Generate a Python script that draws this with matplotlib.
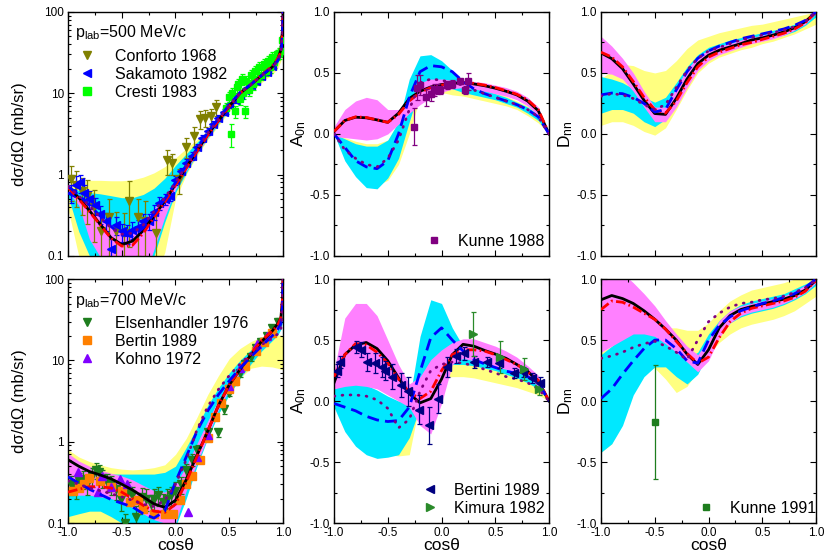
import matplotlib
matplotlib.use("Agg")
import matplotlib.pyplot as plt
from matplotlib.lines import Line2D
from matplotlib.ticker import MultipleLocator, LogLocator, NullFormatter, FixedLocator, FixedFormatter

plt.rcParams['font.family'] = ['Liberation Sans', 'DejaVu Sans']
plt.rcParams['mathtext.fontset'] = 'custom'
plt.rcParams['mathtext.rm'] = 'Liberation Sans'
plt.rcParams['mathtext.it'] = 'Liberation Sans:italic'

# angle grids
COS = [-1.0, -0.9, -0.8, -0.7, -0.6, -0.5, -0.4, -0.3, -0.2, -0.1, 0.0,
       0.1, 0.2, 0.3, 0.4, 0.5, 0.6, 0.7, 0.8, 0.9, 1.0]
COS_LOG = [-1.0, -0.9, -0.8, -0.7, -0.6, -0.5, -0.4, -0.3, -0.2, -0.1, 0.0,
           0.1, 0.2, 0.3, 0.4, 0.5, 0.6, 0.7, 0.8, 0.9, 0.95, 0.98, 0.995, 1.0]

# ---- 500 MeV/c, dsigma/dOmega ----
TL_BLACK = [0.71, 0.52, 0.36, 0.245, 0.168, 0.138, 0.152, 0.205, 0.31, 0.47, 0.76, 1.22, 1.95, 3.1, 4.6, 6.9, 10.0, 12.7, 16.5, 21, 26, 34, 60, 100]
TL_RED = [0.70, 0.50, 0.35, 0.24, 0.165, 0.132, 0.135, 0.19, 0.30, 0.46, 0.74, 1.2, 1.93, 3.05, 4.6, 6.9, 10.0, 12.8, 16.8, 21.5, 26.5, 32, 55, 100]
TL_BLUE = [0.72, 0.56, 0.42, 0.31, 0.23, 0.18, 0.175, 0.22, 0.33, 0.5, 0.8, 1.3, 2.1, 3.3, 4.9, 7.2, 10.2, 12.8, 16.5, 21, 25, 30, 50, 100]
TL_PURPLE = [0.72, 0.55, 0.41, 0.30, 0.22, 0.185, 0.19, 0.24, 0.35, 0.52, 0.8, 1.28, 2.05, 3.2, 4.8, 7.1, 10.1, 12.7, 16.4, 20.8, 25, 30, 50, 100]
TL_YEL_LO = [0.38, 0.1, 0.05, 0.05, 0.05, 0.05, 0.05, 0.05, 0.05, 0.11, 0.5, 1.0, 1.7, 2.7, 4.0, 6.0, 8.5, 10.8, 13.5, 17, 20, 25, 40, 100]
TL_YEL_HI = [0.75, 0.82, 0.85, 0.85, 0.84, 0.84, 0.86, 0.93, 1.05, 1.25, 1.6, 2.1, 2.7, 3.5, 4.9, 7.2, 10.3, 13, 17, 22, 27, 35, 60, 100]
TL_CYAN_LO = [0.55, 0.2, 0.1, 0.05, 0.05, 0.05, 0.05, 0.05, 0.1, 0.26, 0.6, 1.05, 1.8, 2.8, 4.2, 6.4, 9.3, 11.8, 15, 19, 23, 30, 50, 100]
TL_CYAN_HI = [0.72, 0.64, 0.6, 0.58, 0.55, 0.52, 0.52, 0.57, 0.68, 0.9, 1.3, 1.8, 2.5, 3.4, 4.8, 7.1, 10.2, 12.9, 16.8, 21.5, 26.5, 34, 60, 100]
TL_MAG_LO = [0.62, 0.42, 0.16, 0.097, 0.05, 0.05, 0.05, 0.05, 0.12, 0.3, 0.66, 1.12, 1.82, 2.9, 4.4, 6.6, 9.7, 12.3, 15.8, 20, 25, 32, 55, 100]
TL_MAG_HI = [0.74, 0.55, 0.42, 0.31, 0.24, 0.21, 0.22, 0.27, 0.38, 0.55, 0.85, 1.35, 2.15, 3.3, 4.8, 7.1, 10.3, 13, 17, 21.5, 27, 34, 60, 100]

CONF_X = [-0.975, -0.93, -0.87, -0.82, -0.76, -0.69, -0.62, -0.55, -0.48, -0.43, -0.35, -0.28, -0.18, -0.08, -0.03, 0.03, 0.1, 0.17, 0.23, 0.27, 0.33, 0.38]
CONF_Y = [0.88, 0.75, 0.62, 0.55, 0.4, 0.2, 0.3, 0.2, 0.19, 0.48, 0.3, 0.27, 0.19, 1.5, 1.4, 0.88, 2.2, 3.0, 4.8, 5.0, 5.2, 6.8]
CONF_ERR = [0.4, 0.35, 0.3, 0.3, 0.25, 0.15, 0.2, 0.15, 0.15, 0.35, 0.2, 0.2, 0.15, 0.5, 0.4, 0.3, 0.6, 0.8, 1.2, 1.2, 1.2, 1.5]

SAKA_X = [-0.97, -0.93, -0.89, -0.85, -0.8, -0.75, -0.7, -0.65, -0.6, -0.55, -0.5, -0.45, -0.4, -0.35, -0.3, -0.25, -0.2, -0.15, -0.1, -0.05, 0.0, 0.05, 0.1, 0.15, 0.2, 0.25, 0.3, 0.35, 0.4, 0.45, 0.5, 0.55, 0.6, 0.65, 0.7, 0.75, 0.8, 0.85, 0.9]
SAKA_Y = [0.6, 0.75, 0.8, 0.6, 0.5, 0.42, 0.33, 0.27, 0.12, 0.24, 0.2, 0.19, 0.21, 0.23, 0.27, 0.27, 0.35, 0.45, 0.5, 0.55, 0.85, 1.1, 1.4, 1.7, 2.2, 2.8, 3.4, 4.2, 5.0, 5.9, 7.2, 8.2, 9.5, 11, 12.5, 14, 16.5, 18.5, 21.5]
SAKA_ERR = [0.15, 0.2, 0.2, 0.15, 0.12, 0.1, 0.08, 0.07, 0.04, 0.06, 0.05, 0.05, 0.05, 0.05, 0.06, 0.06, 0.07, 0.08, 0.08, 0.08, 0.1, 0.12, 0.14, 0.17, 0.2, 0.25, 0.3, 0.35, 0.4, 0.5, 0.6, 0.7, 0.8, 0.9, 1.0, 1.1, 1.3, 1.5, 1.7]

CRES_X = [0.47, 0.5, 0.52, 0.53, 0.55, 0.57, 0.58, 0.6, 0.62, 0.63, 0.65, 0.66, 0.68, 0.7, 0.72, 0.74, 0.76, 0.78, 0.8, 0.82, 0.84, 0.86, 0.88, 0.9, 0.92, 0.94, 0.96, 0.98, 0.99]
CRES_Y = [6.5, 9.0, 3.2, 10, 6.0, 12, 13, 8.5, 15, 10, 6.0, 14, 11, 17, 13, 19, 15, 21, 17, 23, 19, 25, 21, 28, 24, 30, 31, 33, 45]
CRES_ERR = [1.0, 1.3, 1.0, 1.5, 1.0, 1.8, 2.0, 1.3, 2.2, 1.5, 1.0, 2.1, 1.7, 2.5, 2.0, 2.8, 2.3, 3.1, 2.6, 3.4, 2.9, 3.7, 3.2, 4.2, 3.6, 4.5, 4.6, 4.9, 6.0]

# ---- 500 MeV/c, A0n ----
TM_BLACK = [0.02, 0.11, 0.137, 0.132, 0.115, 0.095, 0.17, 0.29, 0.35, 0.385, 0.405, 0.415, 0.42, 0.41, 0.395, 0.375, 0.35, 0.32, 0.27, 0.19, 0.0]
TM_RED = [0.02, 0.11, 0.14, 0.135, 0.115, 0.095, 0.16, 0.27, 0.34, 0.38, 0.40, 0.415, 0.42, 0.415, 0.40, 0.38, 0.355, 0.325, 0.28, 0.2, 0.0]
TM_BLUE = [0.0, -0.11, -0.22, -0.27, -0.285, -0.22, 0.0, 0.30, 0.51, 0.56, 0.55, 0.51, 0.43, 0.37, 0.33, 0.30, 0.27, 0.24, 0.2, 0.14, 0.0]
TM_PURPLE = [0.0, -0.13, -0.2, -0.25, -0.27, -0.2, -0.05, 0.2, 0.42, 0.45, 0.44, 0.42, 0.40, 0.36, 0.33, 0.3, 0.27, 0.24, 0.2, 0.14, 0.0]
TM_YEL_LO = [0.0, -0.2, -0.3, -0.38, -0.42, -0.38, -0.25, 0.0, 0.3, 0.34, 0.34, 0.32, 0.31, 0.29, 0.27, 0.25, 0.23, 0.2, 0.15, 0.09, 0.0]
TM_YEL_HI = [0.0, -0.03, -0.06, -0.08, -0.08, -0.05, 0.1, 0.38, 0.5, 0.56, 0.56, 0.5, 0.44, 0.4, 0.37, 0.34, 0.31, 0.27, 0.23, 0.17, 0.0]
TM_CYAN_LO = [0.0, -0.22, -0.35, -0.44, -0.45, -0.36, -0.2, 0.1, 0.38, 0.44, 0.42, 0.37, 0.34, 0.32, 0.3, 0.28, 0.25, 0.22, 0.17, 0.11, 0.0]
TM_CYAN_HI = [0.0, -0.04, -0.08, -0.1, -0.1, -0.05, 0.1, 0.45, 0.64, 0.65, 0.6, 0.52, 0.44, 0.39, 0.36, 0.33, 0.3, 0.26, 0.22, 0.16, 0.0]
TM_MAG_LO = [-0.02, -0.03, -0.04, -0.05, -0.04, 0.0, 0.08, 0.17, 0.24, 0.3, 0.34, 0.37, 0.38, 0.37, 0.35, 0.33, 0.31, 0.28, 0.23, 0.15, 0.0]
TM_MAG_HI = [0.06, 0.2, 0.27, 0.3, 0.28, 0.2, 0.2, 0.27, 0.42, 0.45, 0.45, 0.44, 0.44, 0.43, 0.42, 0.40, 0.38, 0.35, 0.30, 0.22, 0.0]

KUN88_X = [-0.26, -0.23, -0.2, -0.14, -0.1, -0.07, -0.04, -0.01, 0.05, 0.1, 0.17, 0.22, 0.25]
KUN88_Y = [0.06, 0.38, 0.40, 0.30, 0.33, 0.36, 0.37, 0.36, 0.40, 0.41, 0.43, 0.36, 0.43]
KUN88_ERR = [0.15, 0.1, 0.08, 0.07, 0.06, 0.05, 0.04, 0.03, 0.03, 0.03, 0.02, 0.03, 0.07]

# ---- 500 MeV/c, Dnn ----
TR_BLACK = [0.664, 0.617, 0.535, 0.41, 0.276, 0.167, 0.16, 0.29, 0.45, 0.576, 0.645, 0.686, 0.713, 0.74, 0.77, 0.787, 0.81, 0.836, 0.87, 0.92, 1.0]
TR_RED = [0.67, 0.63, 0.55, 0.43, 0.3, 0.2, 0.17, 0.27, 0.42, 0.55, 0.63, 0.67, 0.7, 0.73, 0.75, 0.775, 0.8, 0.825, 0.86, 0.91, 1.0]
TR_BLUE = [0.32, 0.335, 0.33, 0.3, 0.25, 0.18, 0.2, 0.36, 0.51, 0.62, 0.68, 0.72, 0.75, 0.78, 0.8, 0.82, 0.84, 0.86, 0.89, 0.93, 1.0]
TR_PURPLE = [0.31, 0.33, 0.32, 0.29, 0.24, 0.2, 0.24, 0.38, 0.52, 0.62, 0.68, 0.71, 0.74, 0.77, 0.79, 0.81, 0.83, 0.85, 0.88, 0.92, 1.0]
TR_YEL_LO = [0.07, 0.1, 0.1, 0.07, 0.02, -0.01, 0.05, 0.2, 0.36, 0.5, 0.58, 0.63, 0.66, 0.69, 0.71, 0.74, 0.76, 0.79, 0.82, 0.86, 0.9]
TR_YEL_HI = [0.45, 0.52, 0.57, 0.56, 0.52, 0.5, 0.52, 0.6, 0.7, 0.77, 0.8, 0.83, 0.85, 0.87, 0.89, 0.9, 0.92, 0.94, 0.96, 0.98, 1.0]
TR_CYAN_LO = [0.17, 0.2, 0.2, 0.17, 0.1, 0.06, 0.12, 0.27, 0.42, 0.55, 0.63, 0.67, 0.7, 0.72, 0.75, 0.77, 0.79, 0.81, 0.84, 0.89, 0.96]
TR_CYAN_HI = [0.47, 0.45, 0.42, 0.37, 0.3, 0.26, 0.3, 0.42, 0.55, 0.65, 0.71, 0.74, 0.77, 0.79, 0.81, 0.83, 0.85, 0.87, 0.9, 0.94, 1.0]
TR_MAG_LO = [0.5, 0.49, 0.45, 0.35, 0.22, 0.1, 0.1, 0.22, 0.38, 0.52, 0.6, 0.65, 0.68, 0.71, 0.74, 0.76, 0.78, 0.81, 0.85, 0.9, 0.99]
TR_MAG_HI = [0.8, 0.72, 0.62, 0.5, 0.35, 0.22, 0.22, 0.38, 0.53, 0.63, 0.69, 0.72, 0.74, 0.77, 0.79, 0.81, 0.83, 0.86, 0.88, 0.92, 1.0]

# ---- 700 MeV/c, dsigma/dOmega ----
BL_BLACK = [0.6, 0.5, 0.43, 0.39, 0.35, 0.3, 0.255, 0.21, 0.172, 0.156, 0.19, 0.34, 0.68, 1.35, 2.8, 5.0, 7.7, 11.7, 17, 23, 28, 33, 55, 100]
BL_RED = [0.24, 0.26, 0.28, 0.28, 0.27, 0.24, 0.2, 0.165, 0.14, 0.135, 0.17, 0.32, 0.66, 1.35, 2.8, 5.0, 7.8, 12, 17.5, 23, 27, 33, 55, 100]
BL_BLUE = [0.37, 0.31, 0.26, 0.225, 0.195, 0.175, 0.158, 0.13, 0.115, 0.14, 0.32, 0.65, 1.35, 2.4, 3.8, 5.6, 8.0, 11, 15, 20, 24, 28, 45, 100]
BL_PURPLE = [0.33, 0.3, 0.27, 0.25, 0.23, 0.21, 0.19, 0.17, 0.16, 0.19, 0.3, 0.6, 1.4, 2.7, 4.4, 6.5, 9.0, 12, 15.5, 19, 21, 24, 40, 100]
BL_YEL_LO = [0.1, 0.1, 0.1, 0.095, 0.09, 0.085, 0.08, 0.08, 0.08, 0.08, 0.08, 0.3, 0.55, 1.1, 2.2, 3.8, 6.0, 8.0, 8.5, 8.3, 8.0, 7.8, 7.7, 7.7]
BL_YEL_HI = [0.8, 0.65, 0.57, 0.52, 0.48, 0.46, 0.45, 0.46, 0.48, 0.52, 0.7, 1.1, 2.0, 3.8, 6.5, 10.5, 14, 17, 19.5, 20.5, 20.5, 20.5, 20, 19.5]
BL_CYAN_LO = [0.12, 0.13, 0.14, 0.14, 0.12, 0.1, 0.09, 0.08, 0.08, 0.08, 0.09, 0.2, 0.5, 1.1, 2.2, 3.8, 6.0, 9.0, 13, 17.5, 20.5, 24, 30, 35]
BL_CYAN_HI = [0.45, 0.42, 0.41, 0.4, 0.4, 0.4, 0.4, 0.4, 0.4, 0.42, 0.5, 0.85, 1.5, 2.8, 4.6, 7.0, 10, 13.5, 17, 21, 24, 28, 40, 40]
BL_MAG_LO = [0.22, 0.22, 0.22, 0.21, 0.2, 0.18, 0.155, 0.13, 0.11, 0.1, 0.1, 0.25, 0.55, 1.15, 2.5, 4.4, 7.0, 10.5, 15, 20, 24, 28, 45, 100]
BL_MAG_HI = [0.72, 0.58, 0.5, 0.45, 0.41, 0.38, 0.34, 0.29, 0.25, 0.24, 0.3, 0.5, 0.95, 1.8, 3.3, 5.4, 8.2, 12.3, 17.8, 24, 29, 35, 60, 100]

ELS_X = [-0.97, -0.93, -0.9, -0.86, -0.82, -0.78, -0.74, -0.71, -0.68, -0.64, -0.6, -0.55, -0.51, -0.47, -0.44, -0.4, -0.37, -0.34, -0.31, -0.27, -0.23, -0.2, -0.16, -0.12, -0.08, -0.04, 0.0, 0.05, 0.1, 0.15, 0.2, 0.3, 0.4, 0.45, 0.5, 0.55, 0.6, 0.65, 0.7, 0.75, 0.8, 0.85, 0.9, 0.95]
ELS_Y = [0.3, 0.27, 0.33, 0.35, 0.3, 0.38, 0.45, 0.42, 0.36, 0.32, 0.3, 0.26, 0.2, 0.1, 0.25, 0.22, 0.12, 0.18, 0.21, 0.2, 0.17, 0.2, 0.22, 0.18, 0.2, 0.22, 0.25, 0.3, 0.45, 0.6, 0.8, 1.3, 1.3, 2.5, 4.0, 5.5, 7, 9, 11, 14, 17, 20, 25, 30]
ELS_ERR = [0.08, 0.07, 0.08, 0.09, 0.08, 0.1, 0.1, 0.1, 0.09, 0.08, 0.08, 0.07, 0.06, 0.03, 0.07, 0.06, 0.04, 0.05, 0.06, 0.06, 0.05, 0.06, 0.06, 0.05, 0.06, 0.06, 0.07, 0.07, 0.08, 0.1, 0.12, 0.15, 0.15, 0.3, 0.4, 0.55, 0.7, 0.9, 1.1, 1.4, 1.7, 2.0, 2.5, 3.0]

BERT_X = [-0.95, -0.9, -0.85, -0.8, -0.7, -0.6, -0.5, -0.42, -0.35, -0.3, -0.2, -0.1, -0.02, 0.04, 0.1, 0.15, 0.23, 0.3, 0.37, 0.42, 0.5, 0.55, 0.65, 0.75, 0.82, 0.9]
BERT_Y = [0.25, 0.27, 0.3, 0.36, 0.33, 0.28, 0.25, 0.18, 0.19, 0.15, 0.13, 0.13, 0.13, 0.19, 0.3, 0.38, 0.6, 1.1, 2.0, 3.0, 4.5, 5.5, 8.5, 13, 17, 22]

KOH_X = [-0.91, -0.72, -0.68, -0.6, -0.52, -0.45, 0.12, 0.2, 0.3, 0.5, 0.6, 0.76, 0.85]
KOH_Y = [0.42, 0.24, 0.38, 0.28, 0.35, 0.3, 0.135, 0.65, 1.2, 4.8, 8, 16, 20]

# ---- 700 MeV/c, A0n ----
BM_BLACK = [0.15, 0.38, 0.46, 0.48, 0.43, 0.33, 0.19, 0.06, -0.015, 0.02, 0.18, 0.38, 0.465, 0.45, 0.415, 0.385, 0.35, 0.3, 0.245, 0.16, 0.0]
BM_RED = [0.2, 0.38, 0.47, 0.46, 0.4, 0.31, 0.18, 0.07, 0.02, 0.08, 0.25, 0.38, 0.42, 0.42, 0.41, 0.38, 0.34, 0.3, 0.24, 0.17, 0.0]
BM_BLUE = [-0.02, -0.05, -0.08, -0.125, -0.155, -0.168, -0.16, -0.05, 0.24, 0.52, 0.6, 0.5, 0.41, 0.34, 0.305, 0.275, 0.245, 0.225, 0.2, 0.15, 0.0]
BM_PURPLE = [0.04, 0.05, 0.05, 0.04, 0.01, -0.06, -0.22, -0.15, 0.08, 0.25, 0.3, 0.32, 0.31, 0.29, 0.26, 0.23, 0.2, 0.18, 0.15, 0.1, 0.0]
BM_YEL_LO = [-0.05, -0.15, -0.25, -0.33, -0.4, -0.44, -0.45, -0.44, 0.0, 0.1, 0.18, 0.2, 0.2, 0.19, 0.17, 0.15, 0.13, 0.11, 0.08, 0.05, 0.0]
BM_YEL_HI = [0.1, 0.12, 0.12, 0.1, 0.05, 0.0, -0.1, -0.1, 0.2, 0.5, 0.45, 0.42, 0.4, 0.37, 0.34, 0.31, 0.28, 0.25, 0.21, 0.15, 0.0]
BM_CYAN_LO = [-0.05, -0.25, -0.37, -0.44, -0.47, -0.46, -0.44, -0.3, -0.05, 0.1, 0.25, 0.3, 0.3, 0.29, 0.27, 0.25, 0.22, 0.19, 0.15, 0.1, 0.0]
BM_CYAN_HI = [0.1, 0.15, 0.15, 0.13, 0.09, 0.04, 0.0, 0.0, 0.53, 0.83, 0.8, 0.6, 0.45, 0.4, 0.36, 0.33, 0.3, 0.27, 0.23, 0.17, 0.0]
BM_MAG_LO = [0.1, 0.12, 0.13, 0.12, 0.1, 0.05, 0.0, -0.05, -0.2, -0.27, -0.02, 0.3, 0.35, 0.33, 0.31, 0.28, 0.26, 0.24, 0.2, 0.12, 0.0]
BM_MAG_HI = [0.25, 0.68, 0.8, 0.8, 0.7, 0.5, 0.3, 0.14, 0.2, 0.34, 0.42, 0.48, 0.51, 0.51, 0.48, 0.45, 0.41, 0.36, 0.29, 0.21, 0.0]

BTN_X = [-0.97, -0.94, -0.8, -0.75, -0.69, -0.62, -0.55, -0.53, -0.46, -0.38, -0.31, -0.21, -0.12, -0.03, 0.05, 0.13, 0.21, 0.3, 0.42, 0.53, 0.67, 0.76, 0.84, 0.92]
BTN_Y = [0.25, 0.32, 0.44, 0.42, 0.32, 0.31, 0.28, 0.25, 0.2, 0.13, 0.08, -0.07, -0.2, 0.02, 0.28, 0.37, 0.39, 0.32, 0.32, 0.31, 0.23, 0.24, 0.19, 0.15]
BTN_ERR = [0.05, 0.05, 0.05, 0.06, 0.07, 0.08, 0.08, 0.08, 0.1, 0.1, 0.12, 0.12, 0.15, 0.12, 0.08, 0.06, 0.05, 0.05, 0.04, 0.04, 0.04, 0.04, 0.04, 0.05]

KIM_X = [0.29, 0.54, 0.77, 0.91]
KIM_Y = [0.55, 0.36, 0.26, 0.1]
KIM_ERR = [0.18, 0.13, 0.09, 0.05]

# ---- 700 MeV/c, Dnn ----
BR_BLACK = [0.83, 0.865, 0.84, 0.8, 0.74, 0.67, 0.59, 0.5, 0.385, 0.3, 0.42, 0.6, 0.7, 0.75, 0.775, 0.795, 0.815, 0.835, 0.865, 0.91, 0.99]
BR_RED = [0.75, 0.82, 0.81, 0.77, 0.72, 0.67, 0.59, 0.49, 0.39, 0.31, 0.36, 0.52, 0.65, 0.72, 0.76, 0.78, 0.8, 0.82, 0.85, 0.9, 0.99]
BR_BLUE = [0.02, 0.1, 0.22, 0.33, 0.43, 0.5, 0.5, 0.43, 0.33, 0.31, 0.5, 0.62, 0.69, 0.74, 0.77, 0.8, 0.82, 0.85, 0.88, 0.93, 1.0]
BR_PURPLE = [0.35, 0.37, 0.4, 0.44, 0.47, 0.49, 0.45, 0.4, 0.34, 0.5, 0.65, 0.72, 0.77, 0.8, 0.81, 0.83, 0.84, 0.86, 0.89, 0.93, 0.99]
BR_YEL_LO = [-0.42, -0.35, -0.1, 0.25, 0.28, 0.27, 0.18, 0.07, 0.12, 0.25, 0.38, 0.48, 0.55, 0.6, 0.63, 0.65, 0.67, 0.7, 0.74, 0.8, 0.86]
BR_YEL_HI = [0.4, 0.45, 0.55, 0.6, 0.62, 0.62, 0.6, 0.6, 0.58, 0.58, 0.64, 0.74, 0.82, 0.87, 0.91, 0.93, 0.95, 0.97, 1.0, 1.0, 1.0]
BR_CYAN_LO = [-0.42, -0.35, -0.2, 0.05, 0.2, 0.28, 0.28, 0.2, 0.14, 0.22, 0.4, 0.55, 0.64, 0.69, 0.72, 0.74, 0.76, 0.79, 0.83, 0.88, 0.95]
BR_CYAN_HI = [0.38, 0.45, 0.52, 0.57, 0.6, 0.6, 0.55, 0.45, 0.35, 0.4, 0.55, 0.66, 0.74, 0.79, 0.82, 0.84, 0.86, 0.88, 0.92, 0.96, 1.0]
BR_MAG_LO = [0.4, 0.45, 0.5, 0.55, 0.55, 0.53, 0.47, 0.4, 0.32, 0.24, 0.33, 0.52, 0.64, 0.7, 0.73, 0.75, 0.77, 0.8, 0.84, 0.89, 0.97]
BR_MAG_HI = [1.05, 1.05, 1.05, 0.97, 0.88, 0.78, 0.66, 0.55, 0.45, 0.38, 0.5, 0.66, 0.74, 0.78, 0.8, 0.82, 0.84, 0.86, 0.9, 0.95, 1.0]

KUN91_X = [-0.5]
KUN91_Y = [-0.17]
KUN91_ERR = [0.465]

YELLOW = '#ffff80'
CYAN = '#00e8ff'
MAGENTA = '#ff80ff'
FS = 11.5


def draw_bands(ax, x, yl, yh, cl, ch, ml, mh):
    ax.fill_between(x, yl, yh, color=YELLOW, lw=0, zorder=1)
    ax.fill_between(x, cl, ch, color=CYAN, lw=0, zorder=1.1)
    ax.fill_between(x, ml, mh, color=MAGENTA, lw=0, zorder=1.2)


def draw_curves(ax, x, black, red, blue, purple, z=3):
    ax.plot(x, black, color='black', lw=2, zorder=z)
    ax.plot(x, red, color='red', lw=2, dashes=(3.5, 1.2, 0.6, 1.2), zorder=z + 0.1)
    ax.plot(x, blue, color='blue', lw=2, dashes=(4.3, 2.2), zorder=z + 0.2)
    ax.plot(x, purple, color='purple', lw=2, dashes=(0.3, 2.6),
            dash_capstyle='round', zorder=z + 0.3)


def points(ax, x, y, err, color, marker, ms=5, z=2.5):
    ax.errorbar(x, y, yerr=err, fmt=marker, color=color, ms=ms, mec=color,
                elinewidth=0.9, capsize=1.8, capthick=0.9, zorder=z)


def setup(ax, log=False, bottom=False):
    ax.set_xlim(-1, 1)
    ax.xaxis.set_major_locator(MultipleLocator(0.5))
    ax.xaxis.set_minor_locator(MultipleLocator(0.25))
    if log:
        ax.set_yscale('log')
        ax.set_ylim(0.1, 100)
        ax.yaxis.set_major_locator(FixedLocator([0.1, 1, 10, 100]))
        ax.yaxis.set_major_formatter(FixedFormatter(['0.1', '1', '10', '100']))
        ax.yaxis.set_minor_locator(LogLocator(subs=range(2, 10)))
        ax.yaxis.set_minor_formatter(NullFormatter())
    else:
        ax.set_ylim(-1, 1)
        ax.yaxis.set_major_locator(MultipleLocator(0.5))
        ax.yaxis.set_minor_locator(MultipleLocator(0.25))
        ax.yaxis.set_major_formatter(lambda v, p: '%.1f' % v)
    ax.xaxis.set_major_formatter(lambda v, p: '%.1f' % v)
    ax.tick_params(which='both', direction='in', top=True, right=True,
                   labelsize=8.5, width=0.8, pad=3)
    ax.tick_params(which='major', length=4)
    ax.tick_params(which='minor', length=2.2)
    if not bottom:
        ax.tick_params(labelbottom=False)
    else:
        ax.set_xlabel('cosθ', fontsize=12.5)
        ax.xaxis.set_label_coords(0.5, -0.06)
    for s in ax.spines.values():
        s.set_linewidth(1.0)


def mk(marker, color, ms=6):
    return Line2D([], [], ls='none', marker=marker, color=color, ms=ms)


fig = plt.figure(figsize=(8.26, 5.6), dpi=100)
W, H = 0.2603, 0.4357
ax1 = fig.add_axes([0.0823, 0.543, W, H])
ax2 = fig.add_axes([0.4044, 0.543, W, H])
ax3 = fig.add_axes([0.7276, 0.543, W, H])
ax4 = fig.add_axes([0.0823, 0.066, W, H])
ax5 = fig.add_axes([0.4044, 0.066, W, H])
ax6 = fig.add_axes([0.7276, 0.066, W, H])

# top left
draw_bands(ax1, COS_LOG, TL_YEL_LO, TL_YEL_HI, TL_CYAN_LO, TL_CYAN_HI, TL_MAG_LO, TL_MAG_HI)
points(ax1, CONF_X, CONF_Y, CONF_ERR, '#808000', 'v', ms=6)
points(ax1, SAKA_X, SAKA_Y, SAKA_ERR, '#0000ff', '<', ms=5.5)
points(ax1, CRES_X, CRES_Y, CRES_ERR, '#00ff00', 's', ms=4.5)
draw_curves(ax1, COS_LOG, TL_BLACK, TL_RED, TL_BLUE, TL_PURPLE)
setup(ax1, log=True)
ax1.set_ylabel('dσ/dΩ (mb/sr)', fontsize=12)
ax1.yaxis.set_label_coords(-0.19, 0.5)
ax1.text(0.033, 0.914, r'p$_{\mathregular{lab}}$=500 MeV/c', transform=ax1.transAxes,
         fontsize=FS, va='center', ha='left')
ax1.legend([mk('v', '#808000'), mk('<', '#0000ff'), mk('s', '#00ff00')],
           ['Conforto 1968', 'Sakamoto 1982', 'Cresti 1983'],
           loc='upper left', bbox_to_anchor=(0.05, 0.85), frameon=False, fontsize=FS,
           handlelength=1.0, handletextpad=1.3, labelspacing=0.2,
           borderaxespad=0, borderpad=0)

# top middle
draw_bands(ax2, COS, TM_YEL_LO, TM_YEL_HI, TM_CYAN_LO, TM_CYAN_HI, TM_MAG_LO, TM_MAG_HI)
draw_curves(ax2, COS, TM_BLACK, TM_RED, TM_BLUE, TM_PURPLE)
points(ax2, KUN88_X, KUN88_Y, KUN88_ERR, '#800080', 's', ms=5, z=4)
setup(ax2)
ax2.set_ylabel(r'A$_{\mathregular{0n}}$', fontsize=12.5)
ax2.yaxis.set_label_coords(-0.12, 0.5)
ax2.legend([mk('s', '#800080', 5)], ['Kunne 1988'], loc='lower right',
           bbox_to_anchor=(0.98, 0.03), frameon=False, fontsize=FS,
           handlelength=1.0, handletextpad=1.0, borderaxespad=0, borderpad=0)

# top right
draw_bands(ax3, COS, TR_YEL_LO, TR_YEL_HI, TR_CYAN_LO, TR_CYAN_HI, TR_MAG_LO, TR_MAG_HI)
draw_curves(ax3, COS, TR_BLACK, TR_RED, TR_BLUE, TR_PURPLE)
setup(ax3)
ax3.set_ylabel(r'D$_{\mathregular{nn}}$', fontsize=12.5)
ax3.yaxis.set_label_coords(-0.12, 0.5)

# bottom left
draw_bands(ax4, COS_LOG, BL_YEL_LO, BL_YEL_HI, BL_CYAN_LO, BL_CYAN_HI, BL_MAG_LO, BL_MAG_HI)
points(ax4, ELS_X, ELS_Y, ELS_ERR, '#1e7d1e', 'v', ms=6)
ax4.plot(BERT_X, BERT_Y, 's', color='#ff8000', ms=5.5, zorder=2.6)
ax4.plot(KOH_X, KOH_Y, '^', color='#8000ff', ms=6, zorder=2.7)
draw_curves(ax4, COS_LOG, BL_BLACK, BL_RED, BL_BLUE, BL_PURPLE)
setup(ax4, log=True, bottom=True)
ax4.set_ylabel('dσ/dΩ (mb/sr)', fontsize=12)
ax4.yaxis.set_label_coords(-0.19, 0.5)
ax4.text(0.033, 0.914, r'p$_{\mathregular{lab}}$=700 MeV/c', transform=ax4.transAxes,
         fontsize=FS, va='center', ha='left')
ax4.legend([mk('v', '#1e7d1e'), mk('s', '#ff8000'), mk('^', '#8000ff')],
           ['Elsenhandler 1976', 'Bertin 1989', 'Kohno 1972'],
           loc='upper left', bbox_to_anchor=(0.05, 0.85), frameon=False, fontsize=FS,
           handlelength=1.0, handletextpad=1.3, labelspacing=0.2,
           borderaxespad=0, borderpad=0)

# bottom middle
draw_bands(ax5, COS, BM_YEL_LO, BM_YEL_HI, BM_CYAN_LO, BM_CYAN_HI, BM_MAG_LO, BM_MAG_HI)
draw_curves(ax5, COS, BM_BLACK, BM_RED, BM_BLUE, BM_PURPLE)
points(ax5, BTN_X, BTN_Y, BTN_ERR, '#000080', '<', ms=6, z=4)
points(ax5, KIM_X, KIM_Y, KIM_ERR, '#2a8a2a', '>', ms=6, z=4)
setup(ax5, bottom=True)
ax5.set_ylabel(r'A$_{\mathregular{0n}}$', fontsize=12.5)
ax5.yaxis.set_label_coords(-0.12, 0.5)
ax5.legend([mk('<', '#000080'), mk('>', '#2a8a2a')], ['Bertini 1989', 'Kimura 1982'],
           loc='lower right', bbox_to_anchor=(0.98, 0.03), frameon=False, fontsize=FS,
           handlelength=1.0, handletextpad=1.0, labelspacing=0.2,
           borderaxespad=0, borderpad=0)

# bottom right
draw_bands(ax6, COS, BR_YEL_LO, BR_YEL_HI, BR_CYAN_LO, BR_CYAN_HI, BR_MAG_LO, BR_MAG_HI)
draw_curves(ax6, COS, BR_BLACK, BR_RED, BR_BLUE, BR_PURPLE)
points(ax6, KUN91_X, KUN91_Y, KUN91_ERR, '#1e7d1e', 's', ms=5, z=4)
setup(ax6, bottom=True)
ax6.set_ylabel(r'D$_{\mathregular{nn}}$', fontsize=12.5)
ax6.yaxis.set_label_coords(-0.12, 0.5)
ax6.legend([mk('s', '#1e7d1e', 5)], ['Kunne 1991'], loc='lower right',
           bbox_to_anchor=(1.0, 0.03), frameon=False, fontsize=FS,
           handlelength=1.0, handletextpad=1.0, borderaxespad=0, borderpad=0)

fig.savefig('out.png', dpi=100)
